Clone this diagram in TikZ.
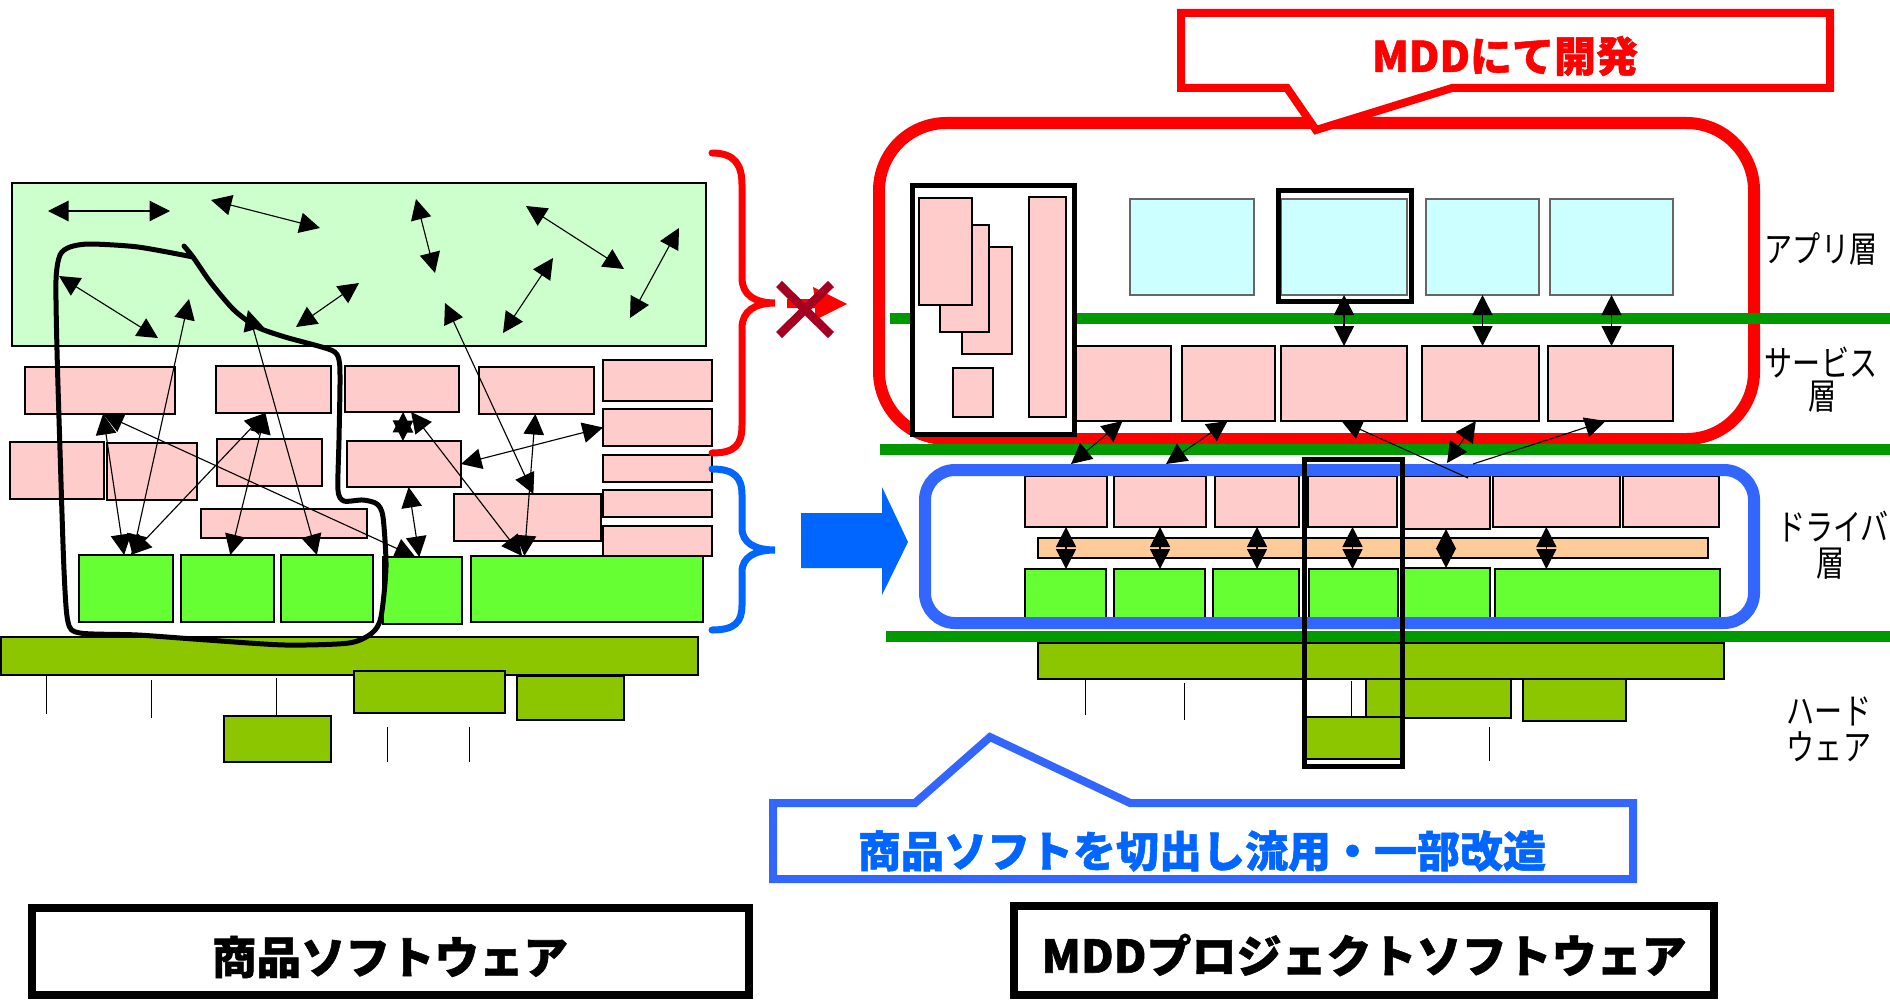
\documentclass[tikz,border=0pt]{standalone}
\usepackage{fontspec}
\newfontfamily\jp{Noto Sans CJK JP}[BoldFeatures={FakeBold=1.2}]
\usetikzlibrary{arrows.meta,calc}
\definecolor{pinkF}{HTML}{FFCCCC}
\definecolor{lgreenF}{HTML}{CCFFCC}
\definecolor{brightG}{HTML}{66FF33}
\definecolor{hwG}{HTML}{8CC600}
\definecolor{cyanF}{HTML}{CCFFFF}
\definecolor{orangeF}{HTML}{FFCC99}
\definecolor{lineG}{HTML}{009900}
\definecolor{redC}{HTML}{FF0000}
\definecolor{blueB}{HTML}{3366FF}
\definecolor{blueT}{HTML}{0066FF}
\definecolor{xred}{HTML}{A50021}
% rectangle node from pixel corners: name, style, x1, y1, x2, y2
\newcommand\mybox[6]{\node[#2,minimum width={(#5-#3)*0.4pt},minimum height={(#6-#4)*0.4pt}] (#1) at ({(#3+#5)/2},{(#4+#6)/2}) {};}
\begin{document}
\begin{tikzpicture}[x=0.4pt,y=-0.4pt,
  bxs/.style={rectangle,inner sep=0pt,outer sep=0pt,draw=black,line width=0.5pt},
  pk/.style={bxs,fill=pinkF},
  lg/.style={bxs,fill=lgreenF},
  gr/.style={bxs,fill=brightG},
  hw/.style={bxs,fill=hwG},
  cy/.style={bxs,fill=cyanF,draw=black!60},
  ob/.style={bxs,fill=orangeF},
  blkframe/.style={rectangle,inner sep=0pt,outer sep=0pt,draw=black,line width=2pt},
  rzone/.style={rectangle,inner sep=0pt,outer sep=0pt,draw=redC,line width=4.8pt,rounded corners=27pt},
  bzone/.style={rectangle,inner sep=0pt,outer sep=0pt,draw=blueB,line width=4.8pt,rounded corners=12pt},
  dbl/.style={arrows={Triangle[length=8.2pt,width=8.2pt]-Triangle[length=8.2pt,width=8.2pt]},line width=0.45pt},
  sgl/.style={arrows={Triangle[length=8.2pt,width=8.2pt]-},line width=0.45pt},
  dia/.style={arrows={Triangle[length=8pt,width=8pt]-Triangle[length=8pt,width=8pt]},line width=0.5pt},
  gline/.style={draw=lineG,line width=4.4pt},
  hwline/.style={draw=black,line width=0.35pt},
  lab/.style={font=\jp\fontsize{14.4}{15}\selectfont,inner sep=0pt},
  ]
\path[use as bounding box] (0,0) rectangle (1890,999);

% ---------------- product software (left) ----------------
\mybox{LG}{lg}{12}{183}{706}{346}
\mybox{A1}{pk}{25}{367}{175}{414}
\mybox{A2}{pk}{216}{366}{331}{413}
\mybox{A3}{pk}{345}{366}{459}{412}
\mybox{A4}{pk}{479}{367}{594}{414}
\mybox{A5}{pk}{603}{360}{712}{401}
\mybox{B5}{pk}{603}{409}{712}{446}
\mybox{C5}{pk}{603}{455}{712}{482}
\mybox{D5}{pk}{603}{490}{712}{517}
\mybox{B1}{pk}{10}{442}{104}{499}
\mybox{B2}{pk}{107}{443}{197}{500}
\mybox{B3}{pk}{217}{439}{322}{486}
\mybox{B4}{pk}{347}{441}{461}{487}
\mybox{C3}{pk}{201}{509}{367}{538}
\mybox{C4}{pk}{454}{494}{601}{541}
\mybox{G1}{gr}{79}{555}{173}{622}
\mybox{G2}{gr}{181}{555}{274}{622}
\mybox{G3}{gr}{281}{555}{373}{622}
\mybox{G4}{gr}{383}{557}{462}{624}
\mybox{G5}{gr}{471}{556}{703}{622}
\mybox{E5}{pk}{603}{526}{712}{556}
\mybox{HB}{hw}{1}{637}{698}{675}
\mybox{H2}{hw}{354}{671}{505}{713}
\mybox{H3}{hw}{517}{676}{624}{720}
\mybox{H1}{hw}{224}{716}{331}{762}
\draw[hwline] (46,676) -- (46,714);
\draw[hwline] (151,680) -- (151,718);
\draw[hwline] (276,678) -- (276,716);
\draw[hwline] (387,727) -- (387,762);
\draw[hwline] (469,727) -- (469,762);

% free ends of the links inside the application area
\coordinate (g1a) at (48,211);   \coordinate (g1b) at (170,211);
\coordinate (g2a) at (211,200);  \coordinate (g2b) at (320,228);
\coordinate (g3a) at (416,199);  \coordinate (g3b) at (435,273);
\coordinate (g4a) at (526,206);  \coordinate (g4b) at (624,269);
\coordinate (g5a) at (679,228);  \coordinate (g5b) at (630,318);
\coordinate (g6a) at (59,276);   \coordinate (g6b) at (158,338);
\coordinate (g7a) at (359,283);  \coordinate (g7b) at (296,327);
\coordinate (g8a) at (553,258);  \coordinate (g8b) at (503,333);
\coordinate (g9a) at (189,299);
\coordinate (g10a) at (248,310);
\coordinate (g11a) at (445,303);

\draw[dbl] (g1a) -- (g1b);
\draw[dbl] (g2a) -- (g2b);
\draw[dbl] (g3a) -- (g3b);
\draw[dbl] (g4a) -- (g4b);
\draw[dbl] (g5a) -- (g5b);
\draw[dbl] (g6a) -- (g6b);
\draw[dbl] (g7a) -- (g7b);
\draw[dbl] (g8a) -- (g8b);
\draw[dbl] (g9a) -- ($(G1.north west)!0.57!(G1.north east)$);
\draw[dbl] (g10a) -- ($(G3.north west)!0.39!(G3.north east)$);
\draw[dbl] (g11a) -- ($(C4.north west)!0.54!(C4.north east)$);
\draw[dbl] ($(A1.south west)!0.52!(A1.south east)$) -- ($(G4.north west)!0.41!(G4.north east)$);
\draw[dbl] ($(A1.south west)!0.52!(A1.south east)$) -- ($(G1.north west)!0.48!(G1.north east)$);
\draw[dbl] ($(A2.south west)!0.43!(A2.south east)$) -- ($(G1.north west)!0.55!(G1.north east)$);
\draw[dbl] ($(A2.south west)!0.43!(A2.south east)$) -- ($(G2.north west)!0.53!(G2.north east)$);
\draw[dbl] ($(A3.south west)!0.51!(A3.south east)$) -- ($(B4.north west)!0.49!(B4.north east)$);
\draw[dbl] ($(A3.south west)!0.58!(A3.south east)$) -- ($(G5.north west)!0.22!(G5.north east)$);
\draw[dbl] ($(B4.south west)!0.54!(B4.south east)$) -- ($(G4.north west)!0.46!(G4.north east)$);
\draw[dbl] ($(A4.south west)!0.49!(A4.south east)$) -- ($(G5.north west)!0.23!(G5.north east)$);
\draw[dbl] (B4.east) -- (B5.west);

% hand-drawn outline of the reused part
\draw[line width=2pt,line join=round,line cap=round] plot[smooth,tension=0.45] coordinates {
  (184,246) (193,257) (211,283) (234,310) (257,327) (285,337) (331,350) (339,360)
  (340,383) (339,440) (338,490) (344,501) (363,500) (377,504) (383,517) (386,567)
  (381,617) (372,633) (349,643) (285,645) (207,640) (138,635) (80,633) (68,622)
  (64,570) (60,450) (57,350) (56,280) (60,255) (70,247) (90,244) (138,247) (193,257)};

% braces, crossed arrow and reuse arrow
\draw[redC,line width=2.8pt,line cap=round]
  (712,153) .. controls (735,153) and (742,165) .. (742,185) -- (742,278)
  .. controls (742,295) and (755,303) .. (775,303)
  .. controls (755,303) and (742,311) .. (742,328) -- (742,425)
  .. controls (742,445) and (735,453) .. (712,453);
\draw[blueT,line width=2.8pt,line cap=round]
  (712,469) .. controls (735,469) and (742,478) .. (742,495) -- (742,528)
  .. controls (742,543) and (755,550) .. (775,550)
  .. controls (755,550) and (742,557) .. (742,572) -- (742,605)
  .. controls (742,622) and (735,630) .. (712,630);
\fill[redC] (787,299) -- (815,299) -- (813,287) -- (847,304) -- (815,320) -- (815,308) -- (787,308) -- cycle;
\draw[xred,line width=3.4pt] (779,284) -- (831,335);
\draw[xred,line width=3.4pt] (831,284) -- (779,335);
\fill[blueT] (801,513) -- (882,513) -- (882,487) -- (908,542) -- (882,595) -- (882,568) -- (801,568) -- cycle;

% ---------------- MDD project software (right) ----------------
\mybox{mddzone}{rzone}{879}{123}{1754}{439}
\draw[gline] (890,318) -- (1890,318);
\mybox{LB}{blkframe,fill=white}{912}{185}{1074}{434}
\mybox{P3}{pk}{962}{247}{1012}{354}
\mybox{P2}{pk}{940}{225}{989}{332}
\mybox{P1}{pk}{919}{198}{972}{305}
\mybox{P4}{pk}{953}{368}{993}{417}
\mybox{P5}{pk}{1029}{197}{1066}{417}
\mybox{C1}{cy}{1130}{199}{1254}{295}
\mybox{C2}{cy}{1281}{199}{1407}{295}
\mybox{C3}{cy}{1426}{199}{1539}{295}
\mybox{C4}{cy}{1550}{199}{1673}{295}
\mybox{C2f}{blkframe}{1278}{190}{1411}{301}
\mybox{S1}{pk}{1076}{346}{1171}{421}
\mybox{S2}{pk}{1182}{346}{1275}{421}
\mybox{S3}{pk}{1281}{346}{1407}{421}
\mybox{S4}{pk}{1422}{346}{1539}{421}
\mybox{S5}{pk}{1548}{346}{1673}{421}
\draw[gline] (880,449) -- (1890,449);

\mybox{D1}{pk}{1025}{476}{1107}{527}
\mybox{D2}{pk}{1114}{476}{1206}{527}
\mybox{D3}{pk}{1215}{476}{1299}{527}
\mybox{D4}{pk}{1308}{476}{1397}{527}
\mybox{D5}{pk}{1402}{476}{1490}{529}
\mybox{D6}{pk}{1493}{476}{1620}{527}
\mybox{D7}{pk}{1623}{476}{1719}{527}
\mybox{OR}{ob}{1038}{538}{1708}{558}
\mybox{E1}{gr}{1025}{569}{1106}{628}
\mybox{E2}{gr}{1114}{569}{1205}{628}
\mybox{E3}{gr}{1213}{569}{1299}{628}
\mybox{E4}{gr}{1309}{569}{1398}{628}
\mybox{E5}{gr}{1403}{568}{1490}{628}
\mybox{E6}{gr}{1495}{569}{1720}{628}
\mybox{drvzone}{bzone}{925}{470}{1754}{623}
\draw[gline] (886,636) -- (1890,636);

\mybox{HB2}{hw}{1038}{643}{1724}{679}
\mybox{HW2}{hw}{1366}{679}{1511}{718}
\mybox{HW3}{hw}{1523}{679}{1626}{721}
\mybox{HW1}{hw}{1303}{717}{1403}{759}
\draw[hwline] (1085,679) -- (1085,715);
\draw[hwline] (1184,683) -- (1184,720);
\draw[hwline] (1351,681) -- (1351,717);
\draw[hwline] (1489,727) -- (1489,761);

% layer links
\draw[dia] (C2.south) -- (S3.north);
\draw[dia] (C3.south) -- (C3.south |- S4.north);
\draw[dia] (C4.south) -- (C4.south |- S5.north);
% ends of the service-to-driver links at the driver frame
\coordinate (s1e) at (1071,464);
\coordinate (s2e) at (1166,464);
\coordinate (s3e) at (1468,478);
\coordinate (s4e) at (1447,463);
\coordinate (s5e) at (1473,464);
\draw[dbl] ($(S1.south west)!0.49!(S1.south east)$) -- (s1e);
\draw[dbl] ($(S2.south west)!0.49!(S2.south east)$) -- (s2e);
\draw[sgl] ($(S3.south west)!0.48!(S3.south east)$) -- (s3e);
\draw[dbl] ($(S4.south west)!0.46!(S4.south east)$) -- (s4e);
\draw[sgl] ($(S5.south west)!0.46!(S5.south east)$) -- (s5e);
\coordinate (d6s) at ($(D6.south west)!0.42!(D6.south east)$);
\draw[dia] (D1.south) -- (D1.south |- E1.north);
\draw[dia] (D2.south) -- (D2.south |- E2.north);
\draw[dia] (D3.south) -- (D3.south |- E3.north);
\draw[dia] (D4.south) -- (D4.south |- E4.north);
\draw[dia] (D5.south) -- (D5.south |- E5.north);
\draw[dia] (d6s) -- (d6s |- E6.north);

% slice reused from the product software
\mybox{TB}{blkframe}{1304}{459}{1402}{766}

% callouts
\draw[draw=redC,line width=3.2pt,fill=white,line join=miter]
  (1287,88) -- (1181,88) -- (1181,13) -- (1830,13) -- (1830,88) -- (1452,88) -- (1316,130) -- cycle;
\node[font=\jp\bfseries\fontsize{16.8}{18}\selectfont,text=redC,inner sep=0pt] (mddt) at (1505,56) {MDDにて開発};
\draw[draw=blueB,line width=3.2pt,fill=white,line join=miter]
  (915,803) -- (773,803) -- (773,879) -- (1633,879) -- (1633,803) -- (1130,803) -- (990,737) -- cycle;
\node[font=\jp\bfseries\fontsize{17.2}{18}\selectfont,text=blueT,inner sep=0pt] (reuset) at (1202,851) {商品ソフトを切出し流用・一部改造};

% layer names
\node[lab] (l1) at (1821,249) {\scalebox{0.78}[1]{アプリ層}};
\node[lab] (l2a) at (1821,362) {\scalebox{0.78}[1]{サービス}};
\node[lab] (l2b) at (1823,397) {\scalebox{0.78}[1]{層}};
\node[lab] (l3a) at (1833,527) {\scalebox{0.78}[1]{ドライバ}};
\node[lab] (l3b) at (1831,564) {\scalebox{0.78}[1]{層}};
\node[lab] (l4a) at (1829,711) {\scalebox{0.78}[1]{ハード}};
\node[lab] (l4b) at (1829,747) {\scalebox{0.78}[1]{ウェア}};

% titles
\mybox{botL}{blkframe,line width=3.2pt}{32}{908}{749}{995}
\node[font=\jp\bfseries\fontsize{17.8}{19}\selectfont,inner sep=0pt] (lbt) at (390,957) {商品ソフトウェア};
\mybox{botR}{blkframe,line width=3.2pt}{1014}{906}{1714}{995}
\node[font=\jp\bfseries\fontsize{18}{19}\selectfont,inner sep=0pt] (rbt) at (1364,955) {MDDプロジェクトソフトウェア};
\end{tikzpicture}
\end{document}
